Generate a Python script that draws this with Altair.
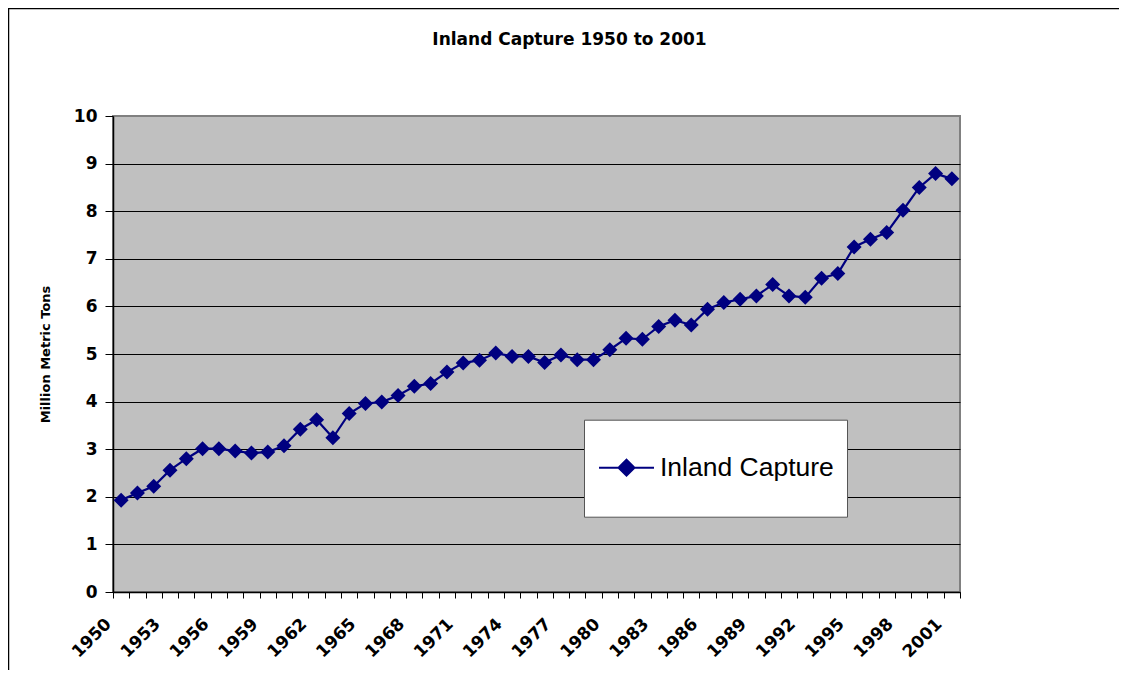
import altair as alt
import pandas as pd

years = [1950, 1951, 1952, 1953, 1954, 1955, 1956, 1957, 1958, 1959,
         1960, 1961, 1962, 1963, 1964, 1965, 1966, 1967, 1968, 1969,
         1970, 1971, 1972, 1973, 1974, 1975, 1976, 1977, 1978, 1979,
         1980, 1981, 1982, 1983, 1984, 1985, 1986, 1987, 1988, 1989,
         1990, 1991, 1992, 1993, 1994, 1995, 1996, 1997, 1998, 1999,
         2000, 2001]
capture = [1.93, 2.08, 2.22, 2.56, 2.80, 3.01, 3.01, 2.96, 2.92, 2.94,
           3.07, 3.42, 3.62, 3.24, 3.75, 3.96, 3.99, 4.13, 4.32, 4.38,
           4.62, 4.81, 4.87, 5.02, 4.95, 4.95, 4.82, 4.98, 4.88, 4.88,
           5.09, 5.33, 5.31, 5.58, 5.71, 5.61, 5.94, 6.08, 6.15, 6.22,
           6.46, 6.22, 6.19, 6.59, 6.69, 7.25, 7.41, 7.55, 8.02, 8.50,
           8.79, 8.68]
series_name = "Inland Capture"
y_ticks = [0, 1, 2, 3, 4, 5, 6, 7, 8, 9, 10]

df = pd.DataFrame({"year": years, "value": capture, "series": [series_name] * len(years)})
frame_df = pd.DataFrame({"k": [0]})

NAVY = "#000080"
BOLD_FONT = "DejaVu Sans"

x_enc = alt.X(
    "year:O",
    scale=alt.Scale(type="band", paddingInner=0, paddingOuter=0),
    axis=alt.Axis(
        title=None,
        labelExpr="(datum.value - 1950) % 3 === 0 ? datum.label : ''",
        labelAngle=315,
        labelAlign="right",
        labelBaseline="middle",
        labelOffset=-13,
        labelPadding=23,
        labelFont=BOLD_FONT,
        labelFontWeight="bold",
        labelFontSize=17,
        labelColor="black",
        labelOverlap=False,
        tickBand="extent",
        tickSize=6,
        tickColor="black",
        domainColor="black",
        domainWidth=1.5,
        grid=False,
    ),
)
y_enc = alt.Y(
    "value:Q",
    scale=alt.Scale(domain=[0, 10], nice=False),
    axis=alt.Axis(
        title="Million Metric Tons",
        titleFont=BOLD_FONT,
        titleFontWeight="bold",
        titleFontSize=13,
        titleColor="black",
        titleAngle=270,
        titleX=-68,
        titleY=238,
        titleAlign="center",
        titleBaseline="middle",
        values=y_ticks,
        labelFont=BOLD_FONT,
        labelFontWeight="bold",
        labelFontSize=17,
        labelColor="black",
        labelPadding=8,
        tickSize=8,
        tickColor="black",
        domainColor="black",
        domainWidth=1.5,
        grid=True,
        gridColor=alt.condition("datum.value === 10", alt.value("#808080"), alt.value("black")),
        gridOpacity=1,
        gridWidth=1,
    ),
)
color_enc = alt.Color(
    "series:N",
    scale=alt.Scale(domain=[series_name], range=[NAVY]),
    legend=alt.Legend(
        title=" ",
        titleFontSize=1,
        titlePadding=0.5,
        orient="none",
        legendX=471,
        legendY=303.7,
        fillColor="white",
        strokeColor="#555555",
        padding=13,
        cornerRadius=0,
        labelFont="Liberation Sans",
        labelFontSize=26.5,
        labelColor="black",
        labelOffset=0,
        labelLimit=400,
        symbolType="M-0.846,0L0.846,0M0,-0.246L0.246,0L0,0.246L-0.246,0ZM0,0.954L0,0.954",
        symbolSize=4225,
        symbolStrokeWidth=2,
        symbolOffset=-4,
        symbolFillColor=NAVY,
        symbolStrokeColor=NAVY,
    ),
)

base = alt.Chart(df).encode(x=x_enc, y=y_enc, color=color_enc)
line = base.mark_line(strokeWidth=2.2)
points = base.mark_point(shape="diamond", filled=True, size=225, opacity=1)

frame = alt.Chart(frame_df).mark_rect(fill="transparent", stroke="black", strokeWidth=1.5).encode(
    x=alt.value(-104.5), x2=alt.value(2000), y=alt.value(-107.5), y2=alt.value(2000)
)

chart = alt.layer(frame, line, points).properties(
    width=847,
    height=476,
    padding={"left": 105, "top": 108, "right": 159, "bottom": 78},
    autosize=alt.AutoSizeParams(type="none"),
    background="white",
    title=alt.TitleParams(
        text="Inland Capture 1950 to 2001",
        font=BOLD_FONT,
        fontWeight="bold",
        fontSize=17,
        color="black",
        anchor="middle",
        frame="group",
        baseline="alphabetic",
        offset=0,
        dx=33,
        dy=54.5,
    ),
).configure_view(
    fill="#C0C0C0",
    stroke="#808080",
    strokeWidth=2,
)

chart.save("out.html", embed_options={"renderer": "svg", "actions": False})
